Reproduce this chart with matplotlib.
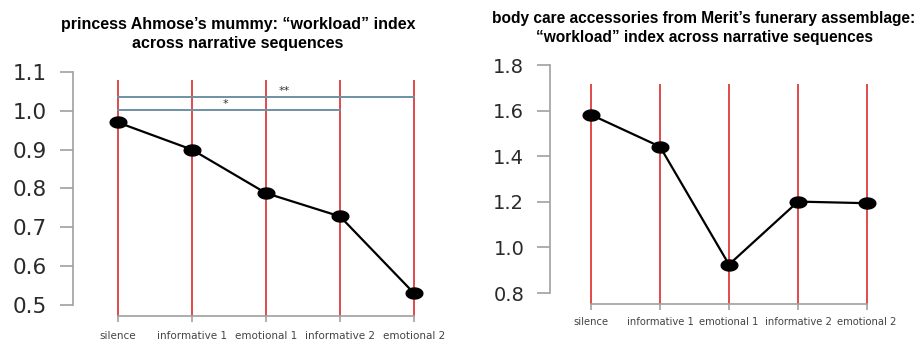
import numpy as np
import matplotlib
matplotlib.use("Agg")
import matplotlib.pyplot as plt
from matplotlib.path import Path

categories = ["silence", "informative 1", "emotional 1", "informative 2", "emotional 2"]
ahmose_values = [0.97, 0.90, 0.788, 0.728, 0.53]
merit_values = [1.582, 1.442, 0.925, 1.201, 1.194]
ahmose_yticks = [0.5, 0.6, 0.7, 0.8, 0.9, 1.0, 1.1]
merit_yticks = [0.8, 1.0, 1.2, 1.4, 1.6, 1.8]
# significance brackets: (start index, end index, y level, label)
sig_bars = [(0, 4, 1.036, "**"), (0, 3, 1.003, "*")]

title_left = "princess Ahmose\u2019s mummy: \u201cworkload\u201d index\nacross narrative sequences"
title_right = ("body care accessories from Merit\u2019s funerary assemblage:\n"
               "\u201cworkload\u201d index across narrative sequences")

plt.rcParams['font.family'] = ['Liberation Sans', 'DejaVu Sans']

# elliptical marker
t = np.linspace(0, 2 * np.pi, 60)
ell = Path(np.column_stack([np.cos(t), 0.66 * np.sin(t)]), closed=True)

fig = plt.figure(figsize=(9.22, 3.41), dpi=100)

def style(ax, yticks, ylabsize, xlabsize, xpad):
    for s in ["top", "right"]:
        ax.spines[s].set_visible(False)
    for s in ["left", "bottom"]:
        ax.spines[s].set_color("#a0a0a0")
        ax.spines[s].set_linewidth(1.2)
    ax.spines["left"].set_bounds(yticks[0], yticks[-1])
    ax.spines["bottom"].set_bounds(0, len(categories) - 1)
    ax.set_yticks(yticks)
    ax.set_yticklabels([f"{v:.1f}" for v in yticks], family="DejaVu Sans")
    ax.set_xticks(range(len(categories)))
    ax.set_xticklabels(categories, family="DejaVu Sans")
    ax.tick_params(axis="y", length=9.5, width=1.2, color="#a0a0a0",
                   labelsize=ylabsize, labelcolor="#2a2a2a", pad=9)
    ax.tick_params(axis="x", length=4.5, width=1.2, color="#a0a0a0",
                   labelsize=xlabsize, labelcolor="#444444", pad=xpad)

# left panel
ax1 = fig.add_axes([73 / 922, 25 / 341, 347 / 922, 244 / 341])
x = np.arange(len(categories))
ax1.set_xlim(-0.608, 4.08)
ax1.set_ylim(0.4716, 1.1)
ax1.vlines(x, 0.4716, 1.079, color="#dd2a2a", lw=1.2, zorder=1)
for i0, i1, yv, lab in sig_bars:
    ax1.plot([i0, i1], [yv, yv], color="#6f8fa3", lw=1.4, zorder=2)
    ax1.text((i0 + i1) / 2 + (0.25 if i1 == 4 else -0.05), yv + 0.001, lab,
             ha="center", va="bottom", fontsize=8, color="#333333",
             family="DejaVu Sans")
ax1.plot(x, ahmose_values, color="black", lw=1.6, marker=ell, markersize=12,
         markerfacecolor="black", markeredgecolor="black", zorder=3,
         clip_on=False)
style(ax1, ahmose_yticks, 15.5, 7.5, 6)
fig.text(238 / 922, 1 - 34 / 341, title_left, ha="center", va="center",
         fontsize=11.5, fontweight="bold", linespacing=1.4)

# right panel
ax2 = fig.add_axes([550 / 922, 37 / 341, 325 / 922, 239 / 341])
ax2.set_xlim(-0.594, 4.116)
ax2.set_ylim(0.752, 1.8)
ax2.vlines(x, 0.752, 1.717, color="#dd2a2a", lw=1.2, zorder=1)
ax2.plot(x, merit_values, color="black", lw=1.6, marker=ell, markersize=12,
         markerfacecolor="black", markeredgecolor="black", zorder=3,
         clip_on=False)
style(ax2, merit_yticks, 14, 7.2, 5)
fig.text(704 / 922, 1 - 28 / 341, title_right, ha="center", va="center",
         fontsize=11.2, fontweight="bold", linespacing=1.4)

fig.savefig("out.png", dpi=100)
